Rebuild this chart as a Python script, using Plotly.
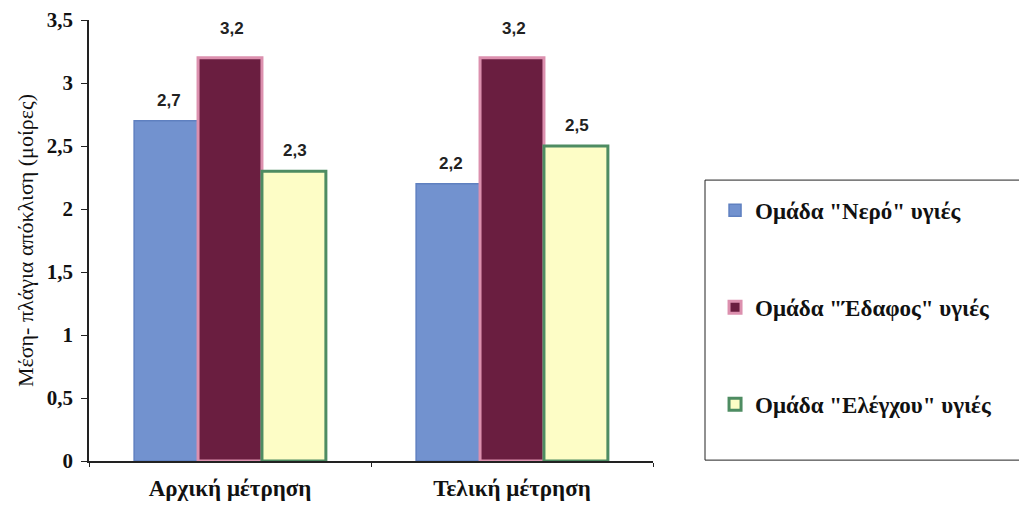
import plotly.graph_objects as go

categories = ["Αρχική μέτρηση", "Τελική μέτρηση"]
series_names = ['Ομάδα "Νερό" υγιές', 'Ομάδα "Έδαφος" υγιές', 'Ομάδα "Ελέγχου" υγιές']
nero = [2.7, 2.2]
edafos = [3.2, 3.2]
elegxou = [2.3, 2.5]
y_title = "Μέση- πλάγια απόκλιση (μοίρες)"

SERIF = "Liberation Serif"
SANS = "Liberation Sans"

fills = ["#7292cf", "#6a1e40", "#fdfdc6"]
lines = ["#5f80c0", "#dc90ae", "#4e8c62"]
line_w = [1.5, 3, 3]

fig = go.Figure()
for i, (name, vals) in enumerate(zip(series_names, [nero, edafos, elegxou])):
    fig.add_trace(go.Bar(
        x=categories, y=vals, name=name,
        marker=dict(color=fills[i], line=dict(color=lines[i], width=line_w[i])),
        legendgroup=f"g{i}",
    ))

# value labels above bars
bar_px = 63
label_shift = {3.2: 18}
for i, vals in enumerate([nero, edafos, elegxou]):
    for c, v in zip(categories, vals):
        fig.add_annotation(
            x=c, y=v, xref="x", yref="y",
            text=f"{v:.1f}".replace(".", ","),
            showarrow=False, xshift=(i - 1) * bar_px + 2,
            yshift=label_shift.get(v, 9), yanchor="bottom",
            font=dict(family=SANS, size=17, color="#222222", weight="bold"),
        )

# legend frame
fig.add_shape(type="rect", xref="paper", yref="paper",
              x0=1.0922, x1=1.75, y0=0.002, y1=0.637,
              line=dict(color="#222222", width=1), fillcolor="rgba(0,0,0,0)")

fig.update_layout(
    width=1019, height=498,
    margin=dict(l=81, r=374, t=12, b=45, autoexpand=False),
    paper_bgcolor="white", plot_bgcolor="white",
    separators=",.",
    barmode="group", bargap=0.32, bargroupgap=0,
    showlegend=True,
    legend=dict(
        x=1.11, y=0.617, xanchor="left", yanchor="top",
        font=dict(family=SERIF, size=23, color="#111111", weight="bold"),
        tracegroupgap=64, bgcolor="rgba(0,0,0,0)",
    ),
    font=dict(family=SERIF, color="#111111"),
)
fig.update_yaxes(
    range=[0, 3.5001], tickvals=[0, 0.5, 1, 1.5, 2, 2.5, 3, 3.5], tickformat=".1~f",
    showgrid=False, zeroline=False, automargin=False,
    showline=True, linecolor="#222222", linewidth=1.5,
    ticks="outside", ticklen=6, tickcolor="#222222",
    ticklabeloverflow="allow", ticklabelstandoff=4,
    tickfont=dict(family=SERIF, size=21, weight="bold"),
    title=dict(text=y_title, standoff=7,
               font=dict(family=SERIF, size=22)),
)
fig.update_xaxes(
    showgrid=False, showline=True, linecolor="#222222", linewidth=1.5,
    automargin=False,
    ticks="outside", ticklen=4, tickson="boundaries", tickcolor="#222222",
    ticklabelstandoff=6,
    tickfont=dict(family=SERIF, size=23, weight="bold"),
)

fig.write_html("out.html")
